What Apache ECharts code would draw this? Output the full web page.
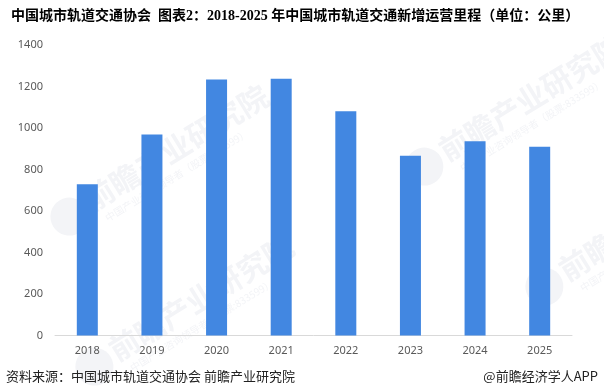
<!DOCTYPE html>
<html><head><meta charset="utf-8">
<script src="https://cdn.jsdelivr.net/npm/echarts@6/dist/echarts.min.js"></script>
<style>html,body{margin:0;padding:0;background:#fff}#c{width:604px;height:389px}</style>
</head><body><div id="c"></div>
<script>
const categories = ['2018','2019','2020','2021','2022','2023','2024','2025'];
const mileage = [728.7, 968.8, 1233.5, 1237.1, 1080.6, 866.7, 936.4, 910];
const yTicks = [0, 200, 400, 600, 800, 1000, 1200, 1400];

const titleText = '中国城市轨道交通协会  图表2：2018-2025 年中国城市轨道交通新增运营里程（单位：公里）';
const sourceText = '资料来源：中国城市轨道交通协会 前瞻产业研究院';
const brandText = '@前瞻经济学人APP';

const chart = echarts.init(document.getElementById('c'), null, {renderer: 'canvas'});
const wmColor = '#f3f4f7';
const wm = (x, y) => ({
  type: 'group', x: x, y: y, rotation: 0.55, silent: true, z: -1,
  children: [
    {type: 'circle', shape: {cx: -22, cy: 6, r: 19}, style: {fill: wmColor}},
    {type: 'text', style: {text: '前瞻产业研究院', x: 0, y: -12, font: 'bold 30px "Noto Sans CJK SC"', fill: wmColor}},
    {type: 'text', style: {text: '中国产业咨询领导者（股票:833599）', x: 8, y: 22, font: '10px "Noto Sans CJK SC"', fill: wmColor}}
  ]
});
chart.setOption({
  animation: false,
  backgroundColor: '#fff',
  textStyle: {fontFamily: '"Noto Sans CJK SC", sans-serif'},
  title: [{
    text: titleText, left: 6, top: 4,
    textStyle: {fontSize: 14, fontWeight: 'bold', color: '#000', fontFamily: '"Liberation Serif", "Noto Sans CJK SC", serif'}
  }],
  graphic: [
    wm(85, 200), wm(440, 150), wm(110, 350), wm(560, 270),
    {type: 'text', left: 6, top: 370, style: {text: sourceText, font: '13px "Noto Sans CJK SC"', fill: '#222'}},
    {type: 'text', right: 6, top: 370, style: {text: brandText, font: '13px "Noto Sans CJK SC"', fill: '#222'}}
  ],
  grid: {left: 55, right: 32, top: 45, bottom: 53.5},
  xAxis: {
    type: 'category', data: categories,
    axisLine: {show: true, lineStyle: {color: '#d9d9d9', width: 1}},
    axisTick: {show: false},
    axisLabel: {color: '#595959', fontSize: 11, margin: 10, fontFamily: '"Noto Sans", sans-serif'}
  },
  yAxis: {
    type: 'value', min: yTicks[0], max: yTicks[yTicks.length - 1], interval: 200,
    axisLine: {show: false}, axisTick: {show: false},
    splitLine: {show: false},
    axisLabel: {color: '#595959', fontSize: 11, margin: 12, fontFamily: '"Noto Sans", sans-serif', formatter: v => String(v)}
  },
  series: [{
    type: 'bar', data: mileage, barWidth: 21,
    itemStyle: {color: '#4287e1'}
  }]
});
</script></body></html>
